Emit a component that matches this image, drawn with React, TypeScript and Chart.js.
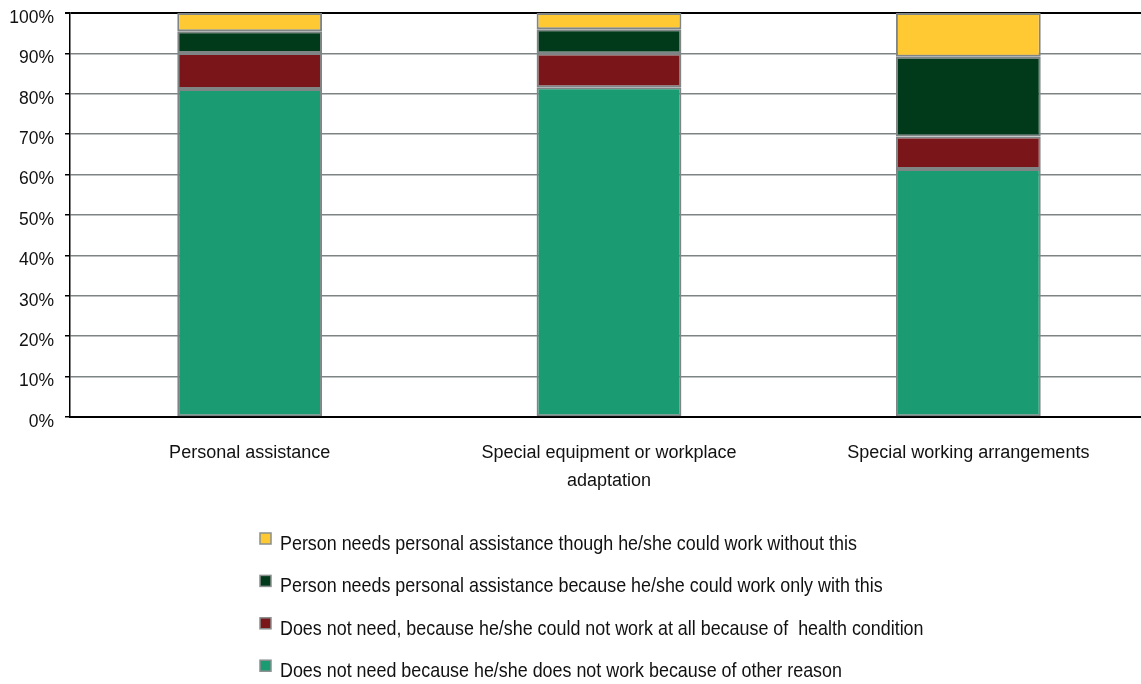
import React, { useEffect, useRef } from "react";
import { Chart, registerables } from "chart.js";
Chart.register(...registerables);

const categories: string[][] = [
  ["Personal assistance"],
  ["Special equipment or workplace", "adaptation"],
  ["Special working arrangements"],
];
const otherReason = [81.2, 81.6, 61.4];
const healthCondition = [8.9, 8.4, 8.0];
const onlyWithThis = [5.4, 6.0, 19.8];
const withoutThis = [4.5, 4.0, 10.8];
const seriesNames = [
  "Does not need because he/she does not work because of other reason",
  "Does not need, because he/she could not work at all because of  health condition",
  "Person needs personal assistance because he/she could work only with this",
  "Person needs personal assistance though he/she could work without this",
];
const seriesColors = ["#1A9B72", "#7A1619", "#003A1A", "#FFC933"];
const yMin = 0;
const yMax = 100;
const yStep = 10;

const FONT = "'Liberation Sans', Arial, sans-serif";

const legendPlugin = {
  id: "customLegend",
  afterDraw(chart: any) {
    const ctx = chart.ctx;
    const ds = chart.data.datasets.slice().reverse();
    ctx.save();
    ctx.font = `17.9px ${FONT}`;
    ctx.textBaseline = "alphabetic";
    ctx.textAlign = "left";
    ds.forEach((d: any, i: number) => {
      const boxY = 533 + i * 42.4;
      ctx.fillStyle = d.backgroundColor;
      ctx.fillRect(260, boxY, 11, 11);
      ctx.strokeStyle = "#8A8F8F";
      ctx.lineWidth = 1.5;
      ctx.strokeRect(260, boxY, 11, 11);
      ctx.fillStyle = "#111";
      ctx.save();
      ctx.translate(280, boxY + 17);
      ctx.scale(1, 1.12);
      ctx.fillText(d.label, 0, 0);
      ctx.restore();
    });
    ctx.restore();
  },
};

export default function App() {
  const ref = useRef<HTMLCanvasElement | null>(null);
  useEffect(() => {
    document.body.style.margin = "0";
    const values = [otherReason, healthCondition, onlyWithThis, withoutThis];
    const chart = new Chart(ref.current as HTMLCanvasElement, {
      type: "bar",
      data: {
        labels: categories,
        datasets: values.map((v, i) => ({
          label: seriesNames[i],
          data: v,
          backgroundColor: seriesColors[i],
          borderColor: "#7F8485",
          borderWidth: 2,
          borderSkipped: false,
          categoryPercentage: 1,
          barPercentage: 0.403,
        })),
      },
      options: {
        responsive: false,
        animation: false,
        layout: { padding: { top: 13, left: 0, right: 0, bottom: 0 } },
        plugins: { legend: { display: false }, tooltip: { enabled: false } },
        scales: {
          x: {
            stacked: true,
            grid: { display: false },
            border: { display: true, color: "#000", width: 2 },
            ticks: {
              color: "#111",
              font: { family: FONT, size: 18, lineHeight: 1.55 },
              padding: 14,
              maxRotation: 0,
              autoSkip: false,
            },
            afterFit(scale: any) {
              scale.height = 267;
              scale.paddingLeft = 0;
              scale.paddingRight = 0;
            },
          },
          y: {
            stacked: true,
            min: yMin,
            max: yMax,
            grid: {
              color: (c: any) => (c.tick && c.tick.value === yMax ? "#000" : "#7E8484"),
              lineWidth: (c: any) => (c.tick && c.tick.value === yMax ? 2 : 1.5),
              tickColor: "#000",
              tickLength: 5,
            },
            border: { display: true, color: "#000", width: 1.5 },
            ticks: {
              stepSize: yStep,
              color: "#111",
              padding: 11,
              labelOffset: 5,
              font: { family: FONT, size: 17.5 },
              callback: (v: any) => `${v}%`,
            },
            afterFit(scale: any) {
              scale.width = 70;
              scale.paddingTop = 0;
              scale.paddingBottom = 0;
            },
          },
        },
      },
      plugins: [legendPlugin],
    });
    return () => chart.destroy();
  }, []);
  return (
    <div style={{ width: 1141, height: 684, overflow: "hidden", background: "#fff" }}>
      <canvas ref={ref} width={1148} height={684} style={{ display: "block" }} />
    </div>
  );
}
